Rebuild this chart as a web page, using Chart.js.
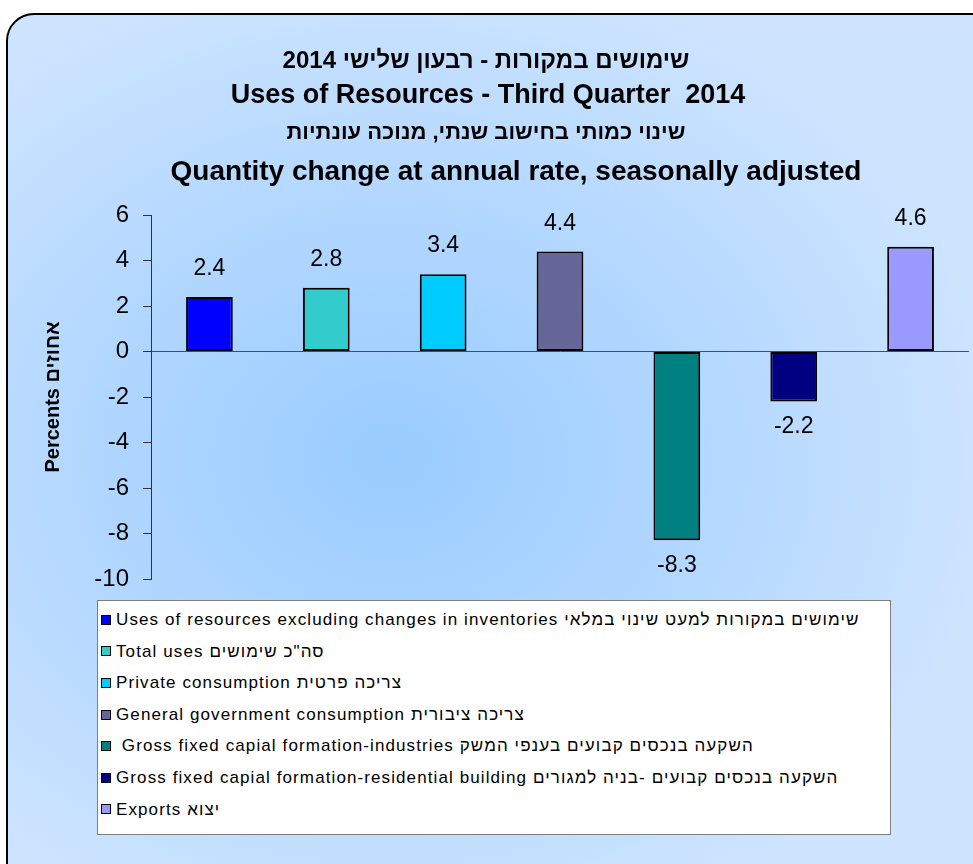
<!DOCTYPE html>
<html>
<head>
<meta charset="utf-8">
<script src="https://cdn.jsdelivr.net/npm/chart.js@4.4.1/dist/chart.umd.min.js"></script>
<style>
    body {
        margin: 0;
        width: 973px;
        height: 864px;
        overflow: hidden;
        position: relative;
        background: #ffffff;
        font-family: Arial, "Liberation Sans", sans-serif;
    }
    #frame {
        position: absolute;
        left: 6px;
        top: 13px;
        width: 1010px;
        height: 890px;
        box-sizing: border-box;
        border: 2px solid #000;
        border-radius: 28px;
        background: radial-gradient(ellipse 62% 58% at 38% 50%, #99ccff 0%, #b0d6ff 45%, #cfe5ff 100%);
    }
    #chartBox {
        position: absolute;
        left: 0;
        top: 0;
        width: 973px;
        height: 864px;
    }
    #legend {
        position: absolute;
        left: 97px;
        top: 600px;
        width: 794px;
        height: 235px;
        box-sizing: border-box;
        background: #ffffff;
        border: 1px solid #7f7f7f;
        padding-top: 3px;
    }
    #legend ul {
        list-style: none;
        margin: 0;
        padding: 0;
    }
    #legend li {
        height: 31.6px;
        line-height: 31.6px;
        font-size: 17px;
        letter-spacing: 1.1px;
        color: #000;
        white-space: pre;
        display: flex;
        align-items: center;
    }
    #legend .box {
        display: inline-block;
        width: 10px;
        height: 10px;
        box-sizing: border-box;
        border: 1px solid #000;
        margin-left: 3px;
        margin-right: 5px;
        flex: none;
    }
</style>
</head>
<body>
<div id="frame"></div>
<div id="chartBox"><canvas id="usesChart"></canvas></div>
<div id="legend"><ul id="legendList"></ul></div>

<script>
// Chart data
const categories = [
    'Uses of resources excluding changes in inventories שימושים במקורות למעט שינוי במלאי',
    'Total uses סה"כ שימושים',
    'Private consumption צריכה פרטית',
    'General government consumption צריכה ציבורית',
    ' Gross fixed capial formation-industries השקעה בנכסים קבועים בענפי המשק',
    'Gross fixed capial formation-residential building השקעה בנכסים קבועים -בניה למגורים',
    'Exports יצוא'
];
const changes = [2.4, 2.8, 3.4, 4.4, -8.3, -2.2, 4.6];
const barColors = ['#0000ff', '#33cccc', '#00ccff', '#666699', '#008080', '#000080', '#9999ff'];
const titleLines = [
    'שימושים במקורות - רבעון שלישי 2014',
    'Uses of Resources - Third Quarter  2014',
    'שינוי כמותי בחישוב שנתי, מנוכה עונתיות',
    'Quantity change at annual rate, seasonally adjusted'
];
const yTicks = [6, 4, 2, 0, -2, -4, -6, -8, -10];
const yTitle = 'Percents אחוזים';

// title drawn line by line (Hebrew and English lines use different sizes)
const titleStyle = [
    { size: 24, x: 486, y: 61 },
    { size: 27, x: 488, y: 96 },
    { size: 22, x: 486, y: 133 },
    { size: 28, x: 516, y: 172 }
];
const multiTitle = {
    id: 'multiTitle',
    afterDraw(chart) {
        const ctx = chart.ctx;
        ctx.save();
        ctx.fillStyle = '#000';
        ctx.textAlign = 'center';
        ctx.textBaseline = 'middle';
        titleLines.forEach((line, i) => {
            const s = titleStyle[i];
            ctx.font = 'bold ' + s.size + 'px Arial, "Liberation Sans", sans-serif';
            ctx.fillText(line, s.x, s.y);
        });
        ctx.restore();
    }
};

// value labels above / below each bar
const valueLabels = {
    id: 'valueLabels',
    afterDatasetsDraw(chart) {
        const ctx = chart.ctx;
        const meta = chart.getDatasetMeta(0);
        ctx.save();
        ctx.font = '23px Arial, "Liberation Sans", sans-serif';
        ctx.fillStyle = '#000';
        ctx.textAlign = 'center';
        ctx.textBaseline = 'middle';
        meta.data.forEach((bar, i) => {
            const v = changes[i];
            const y = v >= 0 ? bar.y - 28 : bar.y + 25;
            ctx.fillText(v.toFixed(1), bar.x, y);
        });
        ctx.restore();
    }
};

const ctx = document.getElementById('usesChart').getContext('2d');
const usesChart = new Chart(ctx, {
    type: 'bar',
    data: {
        labels: categories,
        datasets: [{
            data: changes,
            backgroundColor: barColors,
            borderColor: '#000',
            borderWidth: 2,
            borderSkipped: false,
            barPercentage: 0.4,
            categoryPercentage: 1.0
        }]
    },
    options: {
        responsive: true,
        maintainAspectRatio: false,
        animation: false,
        layout: {
            padding: { top: 215, left: 0, right: 4, bottom: 285 }
        },
        plugins: {
            legend: { display: false },
            tooltip: { enabled: false },
            title: { display: false }
        },
        scales: {
            x: {
                display: false
            },
            y: {
                min: -10,
                max: 6,
                afterFit: function(scale) {
                    scale.width = 151;
                },
                afterBuildTicks: function(scale) {
                    scale.ticks = yTicks.map(v => ({ value: v }));
                },
                title: {
                    display: true,
                    text: yTitle,
                    color: '#000',
                    font: { family: 'Arial, "Liberation Sans", sans-serif', size: 20, weight: 'bold' },
                    padding: { top: 41, bottom: 0 }
                },
                ticks: {
                    color: '#000',
                    padding: 14,
                    font: { family: 'Arial, "Liberation Sans", sans-serif', size: 24 }
                },
                grid: {
                    color: function(context) {
                        return context.tick && context.tick.value === 0 ? '#4d4d4d' : 'rgba(0,0,0,0)';
                    },
                    tickColor: '#333',
                    tickLength: 8,
                    lineWidth: 1
                },
                border: {
                    color: '#333',
                    width: 1
                }
            }
        }
    },
    plugins: [valueLabels, multiTitle]
});

// HTML legend built from the chart's own data
const legendList = document.getElementById('legendList');
usesChart.data.labels.forEach((label, i) => {
    const li = document.createElement('li');
    const box = document.createElement('span');
    box.className = 'box';
    box.style.background = usesChart.data.datasets[0].backgroundColor[i];
    const text = document.createElement('span');
    text.textContent = label;
    li.appendChild(box);
    li.appendChild(text);
    legendList.appendChild(li);
});
</script>
</body>
</html>
